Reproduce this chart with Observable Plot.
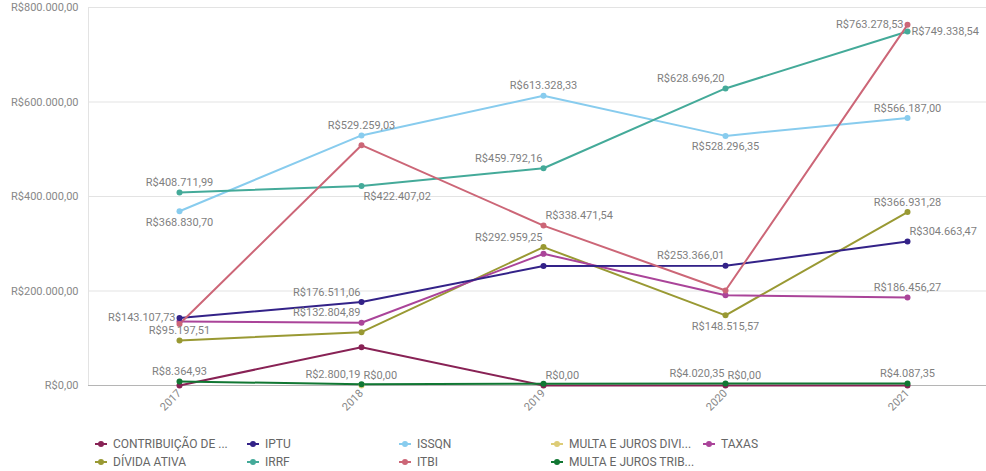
<!DOCTYPE html>
<html>
<head>
<meta charset="utf-8">
<script src="https://cdn.jsdelivr.net/npm/d3@7"></script>
<script src="https://cdn.jsdelivr.net/npm/@observablehq/plot@0.6"></script>
<style>
  body { margin: 0; background: #fff; font-family: Roboto, "Noto Sans", sans-serif; }
  #chart { width: 986px; }
  .legend {
    display: grid;
    grid-template-columns: repeat(5, 152px);
    grid-template-rows: 18.5px 18.5px;
    grid-auto-flow: column;
    padding-left: 95px;
    padding-top: 9.5px;
    font-size: 12px;
    color: #666;
  }
  .legend .item { display: flex; align-items: center; white-space: nowrap; }
  .legend svg { margin-right: 6px; flex: none; }
</style>
</head>
<body>
<div id="chart"></div>
<script>
const years = ["2017", "2018", "2019", "2020", "2021"];
const seriesNames = [
  "CONTRIBUIÇÃO DE ...", "DÍVIDA ATIVA", "IPTU", "IRRF", "ISSQN",
  "ITBI", "MULTA E JUROS DIVI...", "MULTA E JUROS TRIB...", "TAXAS"
];
const seriesColors = [
  "#882255", "#999933", "#332288", "#44aa99", "#88ccee",
  "#cc6677", "#ddcc77", "#117733", "#aa4499"
];
// values per year (2017..2021); null = no value
const contribuicao = [0, 81100, 0, 0, 0];
const dividaAtiva = [95197.51, 112800, 292959.25, 148515.57, 366931.28];
const iptu = [143107.73, 176511.06, 252800, 253366.01, 304663.47];
const irrf = [408711.99, 422407.02, 459792.16, 628696.20, 749338.54];
const issqn = [368830.70, 529259.03, 613328.33, 528296.35, 566187.00];
const itbi = [130000, 508600, 338471.54, 201000, 763278.53];
const multaJurosDivi = [null, 0, null, null, null];
const multaJurosTrib = [8364.93, 2800.19, 3900, 4020.35, 4087.35];
const taxas = [135500, 132804.89, 278700, 191100, 186456.27];
const yTicks = [0, 200000, 400000, 600000, 800000];

// which points carry a value label, and where the label sits
const labelled = [
  ["IRRF", "2017", "t"], ["ISSQN", "2017", "b"], ["IPTU", "2017", "l"],
  ["DÍVIDA ATIVA", "2017", "t"], ["MULTA E JUROS TRIB...", "2017", "t"],
  ["ISSQN", "2018", "t"], ["IRRF", "2018", "br"], ["IPTU", "2018", "tl"],
  ["TAXAS", "2018", "tl"], ["MULTA E JUROS TRIB...", "2018", "tl"],
  ["MULTA E JUROS DIVI...", "2018", "tr"],
  ["ISSQN", "2019", "t"], ["IRRF", "2019", "tl"], ["ITBI", "2019", "tr"],
  ["DÍVIDA ATIVA", "2019", "tl"], ["CONTRIBUIÇÃO DE ...", "2019", "tr"],
  ["IRRF", "2020", "tl"], ["ISSQN", "2020", "b"], ["IPTU", "2020", "tl"],
  ["DÍVIDA ATIVA", "2020", "b"], ["MULTA E JUROS TRIB...", "2020", "tl"],
  ["CONTRIBUIÇÃO DE ...", "2020", "tr"],
  ["ITBI", "2021", "l"], ["IRRF", "2021", "r"], ["ISSQN", "2021", "t"],
  ["DÍVIDA ATIVA", "2021", "t"], ["IPTU", "2021", "tr"], ["TAXAS", "2021", "t"],
  ["MULTA E JUROS TRIB...", "2021", "t"]
];

const seriesValues = {
  "CONTRIBUIÇÃO DE ...": contribuicao, "DÍVIDA ATIVA": dividaAtiva, "IPTU": iptu,
  "IRRF": irrf, "ISSQN": issqn, "ITBI": itbi, "MULTA E JUROS DIVI...": multaJurosDivi,
  "MULTA E JUROS TRIB...": multaJurosTrib, "TAXAS": taxas
};
const drawOrder = ["MULTA E JUROS DIVI...", "CONTRIBUIÇÃO DE ...", "MULTA E JUROS TRIB...", "DÍVIDA ATIVA",
  "TAXAS", "IPTU", "ISSQN", "IRRF", "ITBI"];
const rows = [];
for (const s of drawOrder) {
  seriesValues[s].forEach((v, i) => { if (v != null) rows.push({series: s, year: years[i], value: v}); });
}

const brl = d3.formatLocale({decimal: ",", thousands: ".", grouping: [3], currency: ["R$", ""]}).format("$,.2f");

const placements = {
  t:  {dx: 0,  dy: -10, textAnchor: "middle"},
  b:  {dx: 0,  dy: 11,  textAnchor: "middle"},
  tl: {dx: -1, dy: -10, textAnchor: "end"},
  tr: {dx: 2,  dy: -10, textAnchor: "start"},
  l:  {dx: -4, dy: 0,   textAnchor: "end"},
  r:  {dx: 4,  dy: 0,   textAnchor: "start"},
  br: {dx: 2,  dy: 11,  textAnchor: "start"}
};
const labelRows = labelled.map(([s, y, p]) => ({
  series: s, year: y, pos: p, value: seriesValues[s][years.indexOf(y)]
}));
const labelMarks = Object.entries(placements).map(([p, opt]) =>
  Plot.text(labelRows.filter(d => d.pos === p), {
    x: "year", y: "value", text: d => brl(d.value),
    fill: "#7f7f7f", fontSize: 11, ...opt
  })
);

const plot = Plot.plot({
  width: 986,
  height: 425,
  marginLeft: 88,
  marginRight: 0,
  marginTop: 7,
  marginBottom: 40,
  style: {fontFamily: "Roboto, 'Noto Sans', sans-serif", fontSize: "11px", color: "#888", background: "#fff"},
  x: {type: "point", domain: years, range: [179, 907], padding: 0, label: null},
  y: {domain: [0, 800000], label: null},
  color: {domain: seriesNames, range: seriesColors},
  marks: [
    Plot.ruleY(yTicks.filter(d => d > 0), {stroke: "#e3e3e3", strokeWidth: 1})
    ,Plot.ruleY([0], {stroke: "#b5b5b5", strokeWidth: 1})
    ,Plot.axisY({ticks: yTicks, tickFormat: brl, tickSize: 0, tickPadding: 10, fontSize: 11})
    ,Plot.axisX({tickRotate: -45, tickSize: 0, tickPadding: 6, fontSize: 11})
    ,Plot.line(rows, {x: "year", y: "value", z: "series", stroke: "series", strokeWidth: 2})
    ,Plot.dot(rows, {x: "year", y: "value", fill: "series", r: 3})
    ,...labelMarks
  ]
});
// left vertical axis line along the frame edge
d3.select(plot).insert("line", ":first-child")
  .attr("x1", 88.5).attr("x2", 88.5).attr("y1", 7).attr("y2", 385)
  .attr("stroke", "#e3e3e3");
document.getElementById("chart").append(plot);

// legend
const legend = document.createElement("div");
legend.className = "legend";
seriesNames.forEach((s, i) => {
  const item = document.createElement("div");
  item.className = "item";
  item.innerHTML = `<svg width="12" height="8"><line x1="0" x2="12" y1="4" y2="4" stroke="${seriesColors[i]}" stroke-width="2"/><circle cx="6" cy="4" r="3" fill="${seriesColors[i]}"/></svg><span>${s}</span>`;
  legend.append(item);
});
document.getElementById("chart").append(legend);
</script>
</body>
</html>
